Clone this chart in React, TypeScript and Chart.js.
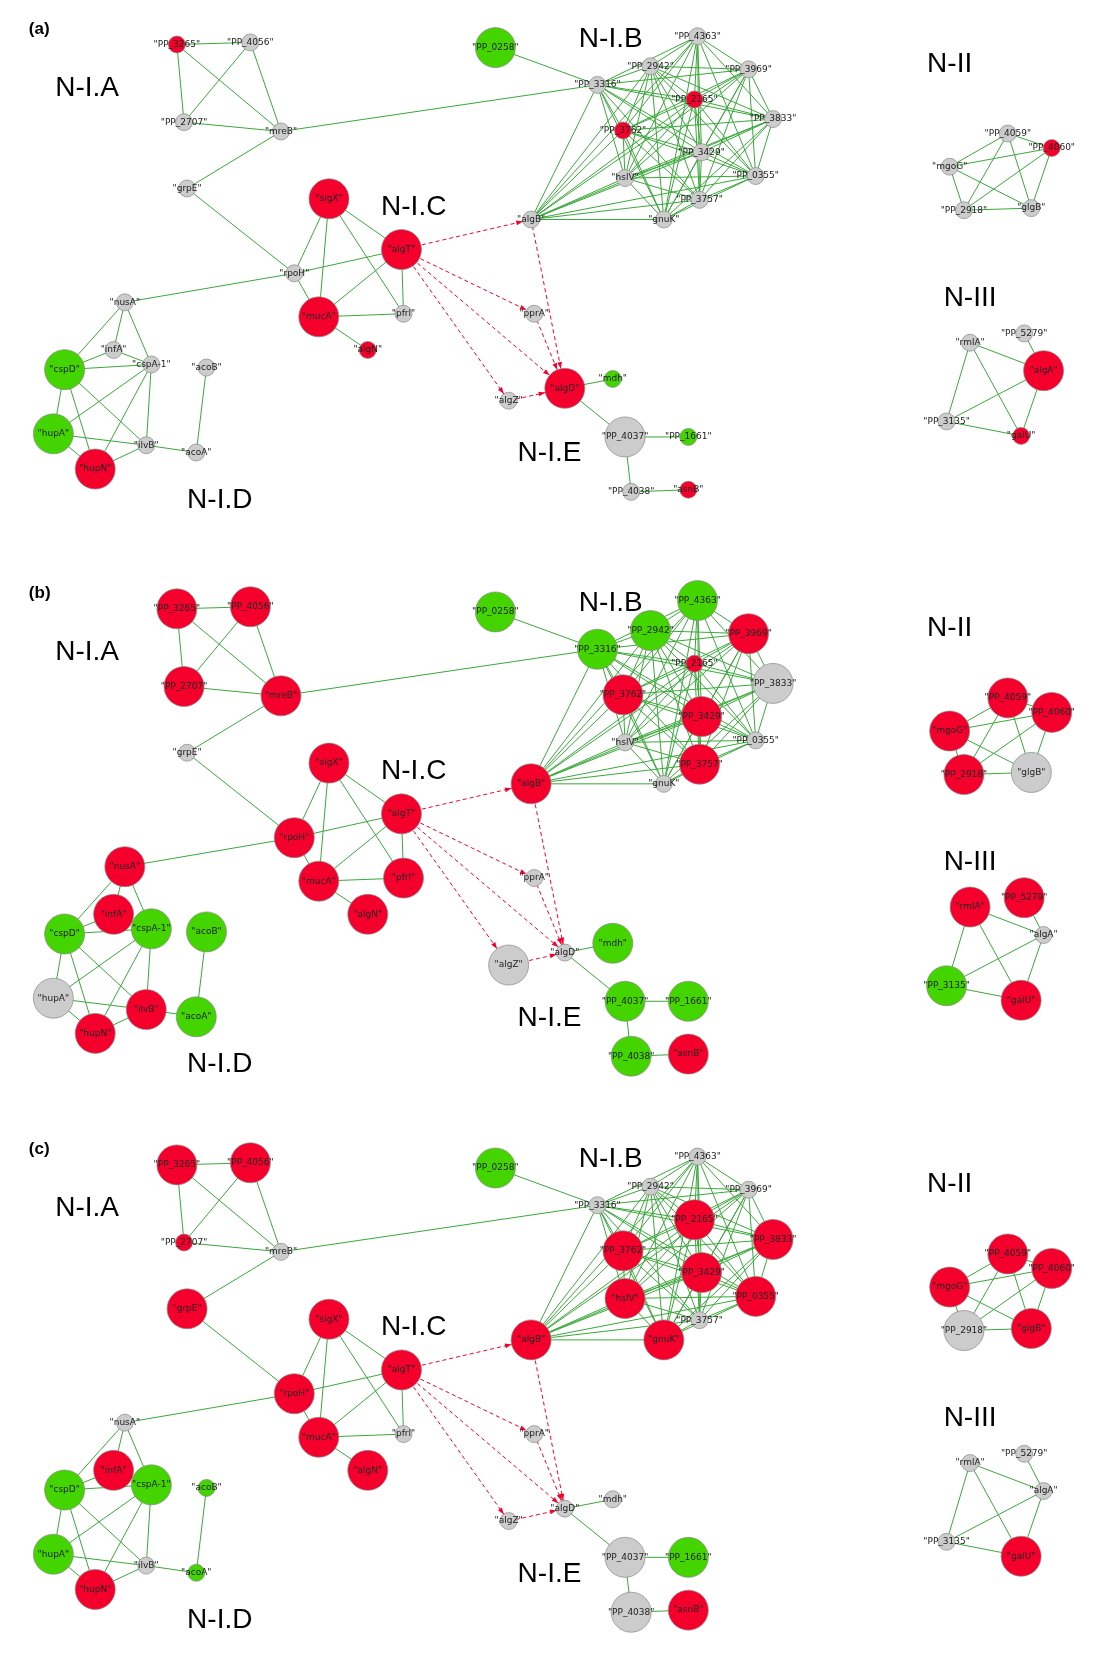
import React, { useEffect, useRef } from "react";
import { Chart, registerables } from "chart.js";
Chart.register(...registerables);

// node names and layout (panel-relative coordinates, in reference units)
const nodeNames = ["PP_3265","PP_4056","PP_2707","mreB","grpE","PP_0258","PP_3316","PP_2942","PP_4363","PP_3969","PP_2165","PP_3833","PP_3762","PP_3429","PP_0355","PP_3757","hslV","gnuK","algB","sigX","algT","rpoH","mucA","pfrl","algN","pprA","algZ","algD","mdh","PP_4037","PP_1661","PP_4038","asnB","nusA","infA","cspD","cspA-1","acoB","hupA","ilvB","acoA","hupN","PP_4059","mgoG","PP_4060","PP_2918","glgB","rmlA","PP_5279","algA","PP_3135","galU"];
const nodeX = [153,225,160,255,163,465,565,617,663,713,660,737,590,667,720,665,592,630,500,302,373,268,292,375,340,503,478,533,580,592,654,598,654,102,91,43,128,182,32,123,172,73,967,910,1010,924,990,930,983,1002,907,980];
const nodeY = [23,21,98,107,162,26,62,44,15,47,76,95,106,127,150,173,152,192,192,172,221,244,286,283,318,283,367,355,346,402,402,455,453,272,318,337,332,335,399,410,417,433,109,141,123,183,181,311,302,338,387,401];

// per-panel colour (r/g/x) and size (L/s) codes, one per node
const panelNames = ["(a)", "(b)", "(c)"];
const panelOffsets = [0, 545, 1082];
const panelCodes = [
  "rs xs xs xs xs gL xs xs xs xs rs xs rs xs xs xs xs xs xs rL rL xs rL xs rs xs xs rL gs xL gs xs rs xs xs gL xs xs gL xs xs rL xs xs rs xs xs xs xs rL xs rs",
  "rL rL rL rL xs gL gL gL gL rL rs xL rL rL xs rL xs xs rL rL rL rL rL rL rL xs xL xs gL gL gL gL rL rL rL gL gL gL xL rL gL rL rL rL rL rL xL rL rL xs gL rL",
  "rL rL rs xs rL gL xs xs xs xs rL rL rL rL rL xs rL rL rL rL rL rL rL xs rL xs xs xs xs xL gL xL rL xs rL gL gL gs gL xs gs rL rL rL rL xL rL xs xs xs xs rL",
];

const groupLabels = ["N-I.A", "N-I.B", "N-I.C", "N-I.D", "N-I.E", "N-II", "N-III"];
const groupX = [65, 578, 385, 195, 518, 910, 930];
const groupY = [65, 18, 180, 463, 418, 42, 268];

const bClique = ["PP_3316","PP_2942","PP_4363","PP_3969","PP_2165","PP_3833","PP_3762","PP_3429","PP_0355","PP_3757","hslV","gnuK","algB"];
const edges: string[][] = [
  ["PP_3265","PP_4056"],["PP_3265","PP_2707"],["PP_3265","mreB"],["PP_4056","PP_2707"],["PP_4056","mreB"],["PP_2707","mreB"],
  ["mreB","PP_3316"],["mreB","grpE"],["grpE","rpoH"],["PP_0258","PP_3316"],
  ["rpoH","sigX"],["rpoH","algT"],["rpoH","mucA"],["rpoH","nusA"],["sigX","algT"],["sigX","mucA"],["sigX","pfrl"],
  ["algT","mucA"],["algT","pfrl"],["mucA","pfrl"],["mucA","algN"],
  ["algD","mdh"],["algD","PP_4037"],["PP_4037","PP_1661"],["PP_4037","PP_4038"],["PP_4038","asnB"],
  ["nusA","infA"],["nusA","cspD"],["nusA","cspA-1"],["infA","cspD"],["infA","cspA-1"],["cspD","cspA-1"],["cspD","hupA"],
  ["cspD","ilvB"],["cspD","hupN"],["cspA-1","hupA"],["cspA-1","ilvB"],["cspA-1","hupN"],["hupA","hupN"],["hupA","ilvB"],
  ["ilvB","hupN"],["ilvB","acoA"],["acoB","acoA"],
  ["PP_4059","mgoG"],["PP_4059","PP_4060"],["PP_4059","PP_2918"],["PP_4059","glgB"],["mgoG","PP_4060"],["mgoG","PP_2918"],
  ["mgoG","glgB"],["PP_4060","PP_2918"],["PP_4060","glgB"],["PP_2918","glgB"],
  ["rmlA","algA"],["rmlA","PP_3135"],["rmlA","galU"],["PP_5279","algA"],["algA","PP_3135"],["algA","galU"],["PP_3135","galU"],
];
bClique.forEach((a, i) => bClique.slice(i + 1).forEach((b) => edges.push([a, b])));
const arrows = [["algT","algB"],["algT","pprA"],["algT","algZ"],["algT","algD"],["algB","algD"],["pprA","algD"],["algZ","algD"]];

const colorMap: Record<string, string> = { r: "#f5002d", g: "#44d400", x: "#cccccc" };

export default function App() {
  const ref = useRef<HTMLCanvasElement>(null);
  useEffect(() => {
    document.body.style.margin = "0";
    const idx = (n: string) => nodeNames.indexOf(n);
    const gap = { x: NaN, y: NaN };
    const datasets: any[] = [];
    panelOffsets.forEach((off, p) => {
      const codes = panelCodes[p].split(" ");
      const segs: any[] = [];
      edges.forEach(([a, b]) => {
        segs.push({ x: nodeX[idx(a)], y: nodeY[idx(a)] + off }, { x: nodeX[idx(b)], y: nodeY[idx(b)] + off }, gap);
      });
      datasets.push({ type: "line", data: segs, borderColor: "#3aa83a", borderWidth: 1, pointRadius: 0, spanGaps: false, order: 3 });
      const asegs: any[] = [];
      arrows.forEach(([a, b]) => {
        asegs.push({ x: nodeX[idx(a)], y: nodeY[idx(a)] + off }, { x: nodeX[idx(b)], y: nodeY[idx(b)] + off }, gap);
      });
      datasets.push({ type: "line", data: asegs, borderColor: "#f5002d", borderWidth: 1, borderDash: [4, 3], pointRadius: 0, spanGaps: false, order: 2, arrowSet: true, codes });
      datasets.push({
        type: "scatter",
        data: nodeNames.map((n, i) => ({ x: nodeX[i], y: nodeY[i] + off, label: n })),
        pointRadius: codes.map((c) => (c[1] === "L" ? 20 : 8.5)),
        backgroundColor: codes.map((c) => colorMap[c[0]]),
        borderColor: "#888",
        borderWidth: 0.7,
        order: 1,
        nodeSet: true,
      });
    });

    const textPlugin = {
      id: "texts",
      afterDatasetsDraw(chart: any) {
        const ctx = chart.ctx;
        const xs = chart.scales.x, ys = chart.scales.y;
        ctx.save();
        chart.data.datasets.forEach((ds: any) => {
          if (ds.arrowSet) {
            ctx.fillStyle = "#f5002d";
            for (let k = 0; k < ds.data.length; k += 3) {
              const a = ds.data[k], b = ds.data[k + 1];
              const x0 = xs.getPixelForValue(a.x), y0 = ys.getPixelForValue(a.y);
              const x1 = xs.getPixelForValue(b.x), y1 = ys.getPixelForValue(b.y);
              const tgt = nodeNames.indexOf(arrows[k / 3][1]);
              const r = ds.codes[tgt][1] === "L" ? 20 : 8.5;
              const ang = Math.atan2(y1 - y0, x1 - x0);
              const tx = x1 - Math.cos(ang) * r, ty = y1 - Math.sin(ang) * r;
              ctx.beginPath();
              ctx.moveTo(tx, ty);
              ctx.lineTo(tx - 7 * Math.cos(ang - 0.35), ty - 7 * Math.sin(ang - 0.35));
              ctx.lineTo(tx - 7 * Math.cos(ang + 0.35), ty - 7 * Math.sin(ang + 0.35));
              ctx.fill();
            }
          }
          if (ds.nodeSet) {
            ctx.fillStyle = "#222";
            ctx.font = "9px 'DejaVu Sans'";
            ctx.textAlign = "center";
            ctx.textBaseline = "middle";
            ds.data.forEach((pt: any) => {
              ctx.fillText('"' + pt.label + '"', xs.getPixelForValue(pt.x), ys.getPixelForValue(pt.y));
            });
          }
        });
        panelOffsets.forEach((off, p) => {
          ctx.fillStyle = "#000";
          ctx.font = "bold 17px 'Liberation Sans'";
          ctx.textAlign = "left";
          ctx.textBaseline = "middle";
          ctx.fillText(panelNames[p], xs.getPixelForValue(8), ys.getPixelForValue(off + 8));
          ctx.font = "28px 'Liberation Sans'";
          ctx.textAlign = "center";
          groupLabels.forEach((g, i) => {
            ctx.fillText(g, xs.getPixelForValue(groupX[i]), ys.getPixelForValue(groupY[i] + off));
          });
        });
        ctx.restore();
      },
    };

    const chart = new Chart(ref.current as HTMLCanvasElement, {
      type: "scatter",
      data: { datasets },
      options: {
        animation: false,
        responsive: true,
        maintainAspectRatio: false,
        layout: { padding: 0 },
        plugins: { legend: { display: false }, tooltip: { enabled: false } },
        scales: {
          x: { type: "linear", min: 0, max: 1037, display: false },
          y: { type: "linear", min: 0, max: 1568, reverse: true, display: false },
        },
      } as any,
      plugins: [textPlugin],
    });
    return () => chart.destroy();
  }, []);
  return (
    <div style={{ width: 1100, height: 1665, background: "#fff" }}>
      <canvas ref={ref} />
    </div>
  );
}
